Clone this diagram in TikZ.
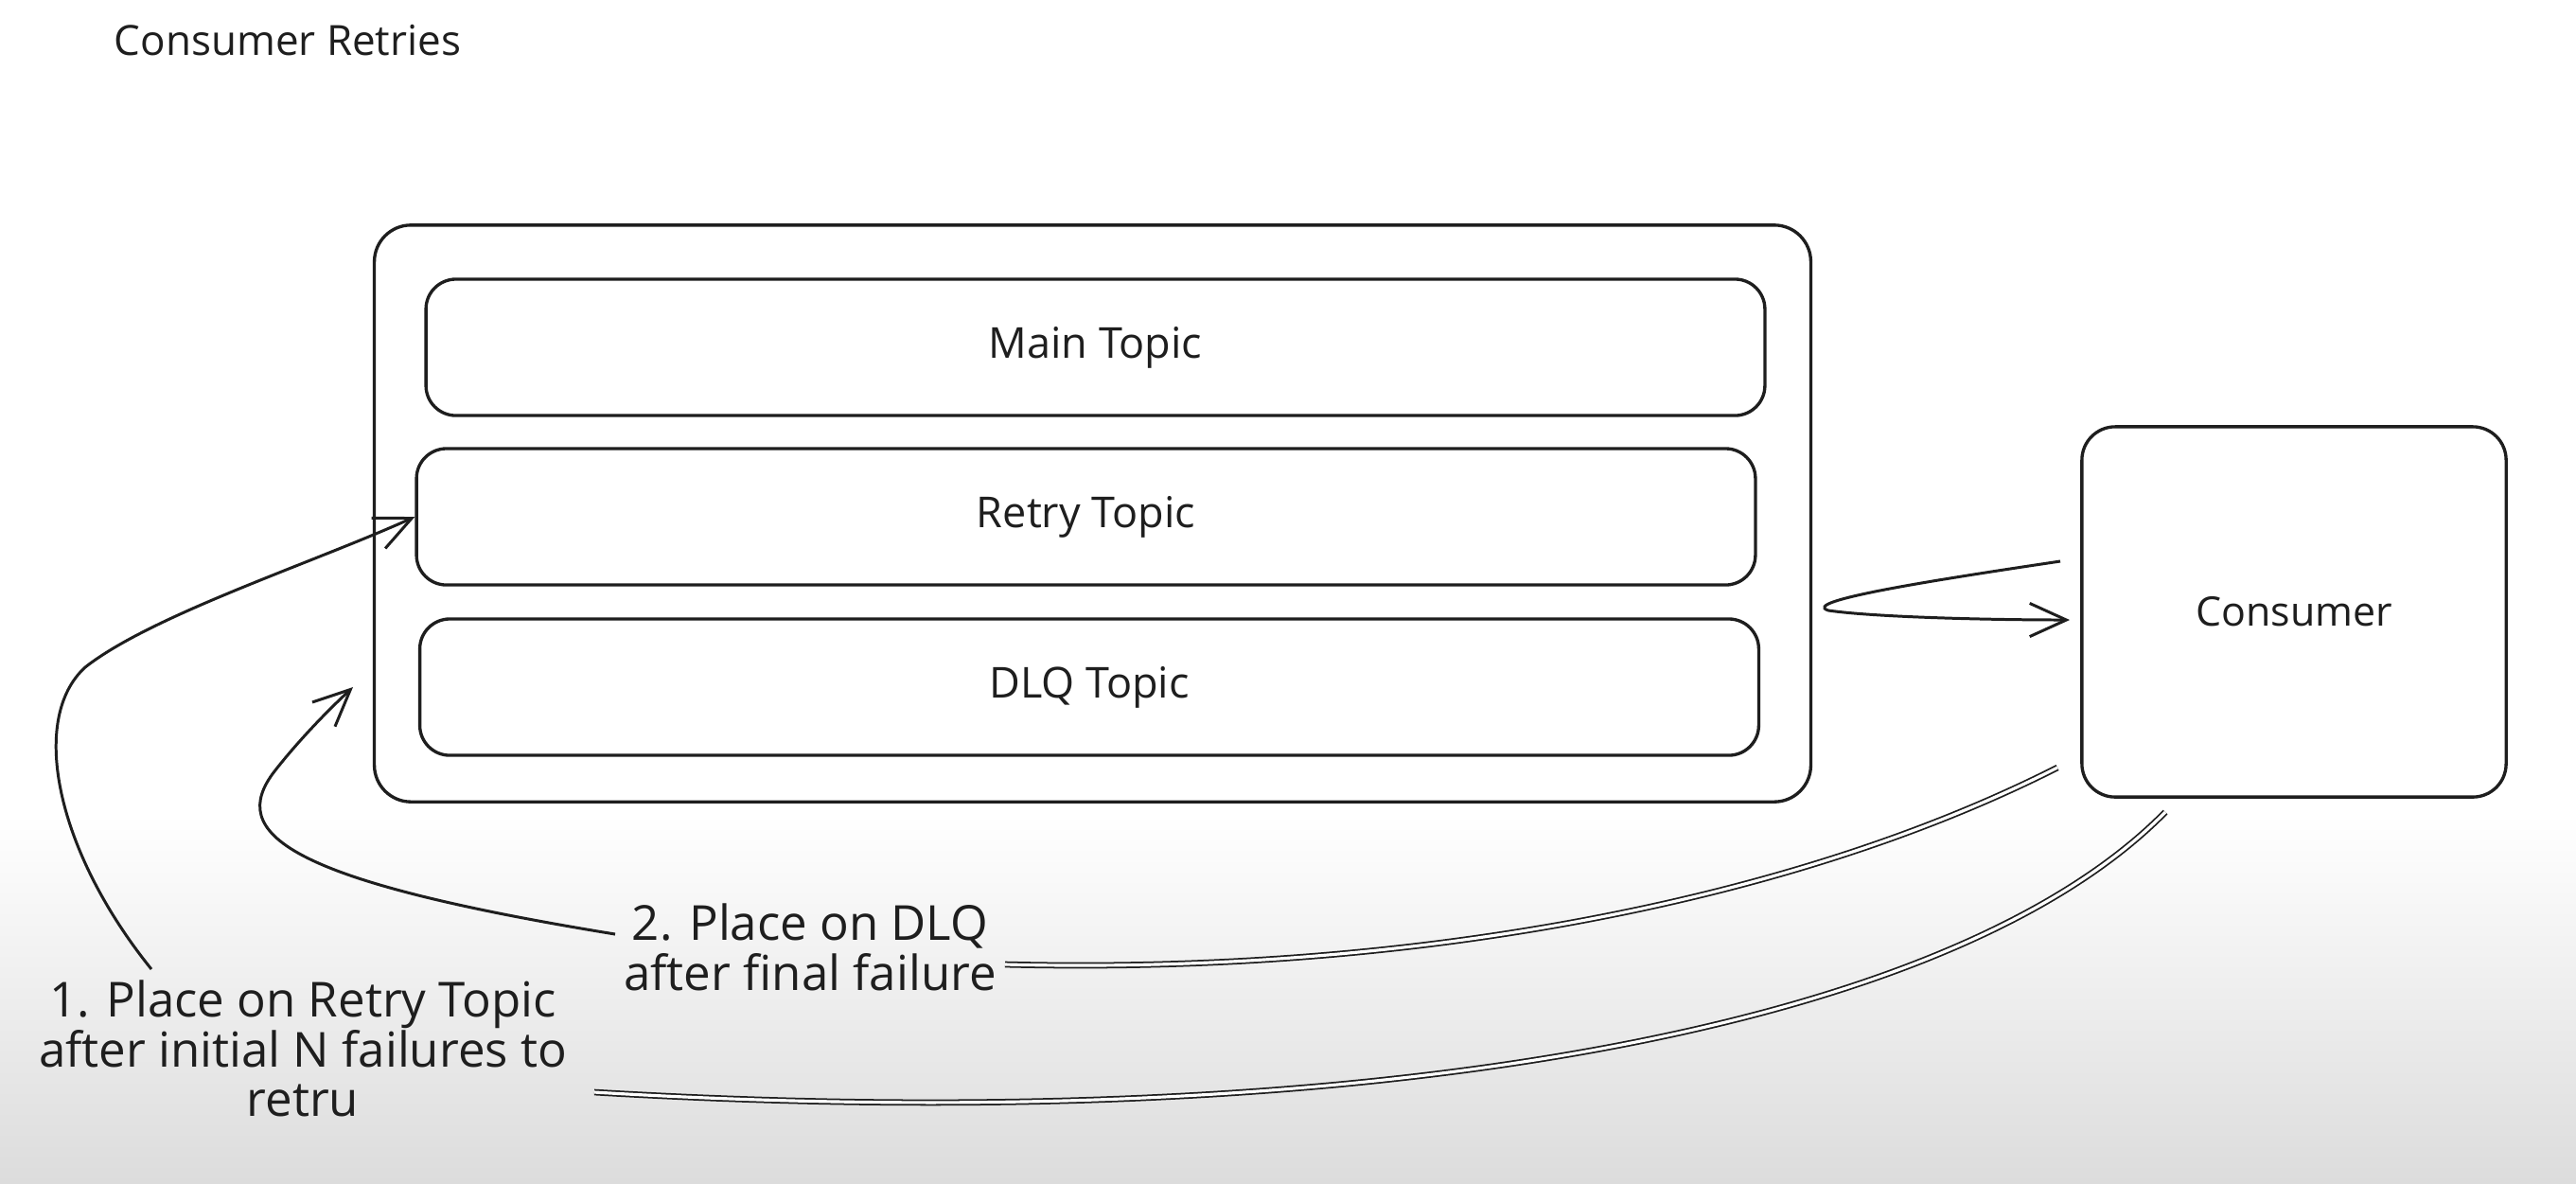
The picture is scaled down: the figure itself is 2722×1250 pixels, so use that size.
\documentclass[tikz,border=0pt]{standalone}
\usepackage{fontspec}
\setmainfont{Open Sans}
\usetikzlibrary{arrows.meta}
\definecolor{ink}{HTML}{1E1E1E}
\definecolor{bgbottom}{HTML}{DCDCDC}
\begin{document}
\begin{tikzpicture}[x=0.01cm,y=-0.01cm,
  inkline/.style={draw=ink, line width=0.95pt},
  box/.style={inkline, rounded corners=9pt, inner sep=0pt, align=center, text=ink},
  topic/.style={box, minimum width=14.14cm, minimum height=1.44cm, font=\fontsize{12.8}{15}\selectfont},
  conn/.style={draw=ink, line width=0.85pt},
  arr/.style={conn, -{Straight Barb[length=11pt,width=10pt,line width=0.85pt]}},
  dbl/.style={draw=ink, line width=0.5pt, double=white, double distance=0.9pt},
  lab/.style={text=ink, align=center, font=\fontsize{14.5}{15}\selectfont, inner sep=0pt}
]
\useasboundingbox (0,0) rectangle (2722,1250);
\fill[white] (0,0) rectangle (2722,1250);
\shade[top color=white, bottom color=bgbottom] (0,860) rectangle (2722,1250);

\node[lab, font=\fontsize{12.5}{14}\selectfont] (title) at (304,43) {Consumer Retries};

\node[box, rounded corners=11pt, minimum width=15.17cm, minimum height=6.09cm] (outer) at (1154.5,542.5) {};
\node[topic] (main) at (1157.5,367) {Main Topic};
\node[topic] (retry) at (1147.5,546) {Retry Topic};
\node[topic] (dlq) at (1151,726) {DLQ Topic};
\node[box, rounded corners=10pt, minimum width=4.48cm, minimum height=3.91cm, font=\fontsize{12.2}{15}\selectfont] (consumer) at (2424,646.5) {Consumer};

\node[lab] (lab2) at (856,1001) {2. Place on DLQ\\after final failure};
\node[lab] (lab1) at (320,1108) {1. Place on Retry Topic\\after initial N failures to\\retru};

\coordinate (a1) at (160,1024);
\coordinate (b1) at (650,987);
\coordinate (t2) at (373,726);
\coordinate (b2) at (1062,1019);
\coordinate (c1) at (2174,811);
\coordinate (c2) at (2288,858);
\coordinate (b3) at (628,1154);
\coordinate (z1) at (2177,593);
\coordinate (z2) at (2187,655);

\draw[arr] (a1) .. controls (60,900) and (30,760) .. (90,705) .. controls (160,650) and (330,595) .. (retry.west);
\draw[arr] (b1) .. controls (300,930) and (240,880) .. (290,815) .. controls (315,783) and (345,752) .. (t2);
\draw[dbl] (b2) .. controls (1500,1030) and (1900,950) .. (c1);
\draw[dbl] (c2) .. controls (2050,1100) and (1400,1200) .. (b3);
\draw[arr] (z1) .. controls (2050,612) and (1900,635) .. (1932,645) .. controls (1980,652) and (2100,655) .. (z2);
\end{tikzpicture}
\end{document}
